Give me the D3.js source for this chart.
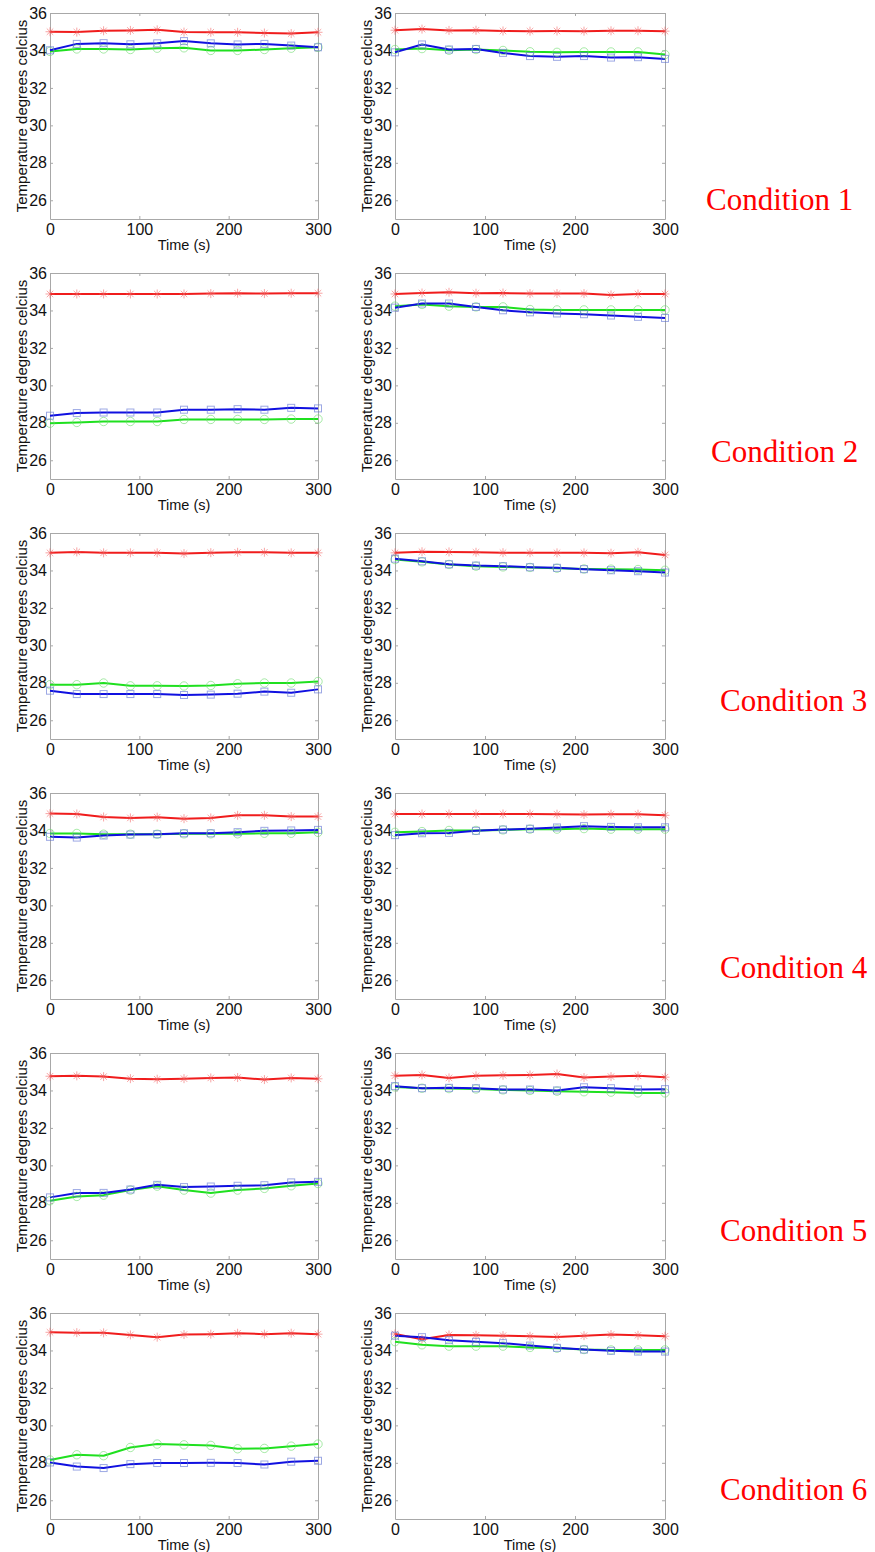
<!DOCTYPE html>
<html>
<head>
<meta charset="utf-8">
<script src="https://cdn.jsdelivr.net/npm/d3@7"></script>
<style>
  body { margin: 0; background: #fff; }
  svg text { font-family: "Liberation Sans", Arial, sans-serif; fill: #111; }
</style>
</head>
<body>
<div id="chart"></div>
<script>
// time points (s)
const times = [0, 30, 60, 90, 120, 150, 180, 210, 240, 270, 300];
const yTicks = [26, 28, 30, 32, 34, 36];
const xTicks = [0, 100, 200, 300];
const conditions = ["Condition 1", "Condition 2", "Condition 3", "Condition 4", "Condition 5", "Condition 6"];

// one row per panel, order: row1 left, row1 right, row2 left, ...
const redSeries = [
  [35.0, 34.98, 35.05, 35.07, 35.1, 34.98, 34.97, 34.97, 34.93, 34.9, 34.97],
  [35.08, 35.14, 35.07, 35.08, 35.04, 35.03, 35.04, 35.03, 35.05, 35.05, 35.03],
  [34.88, 34.88, 34.88, 34.88, 34.88, 34.88, 34.9, 34.92, 34.9, 34.92, 34.92],
  [34.88, 34.93, 34.97, 34.92, 34.93, 34.9, 34.9, 34.9, 34.83, 34.88, 34.88],
  [34.94, 34.99, 34.94, 34.94, 34.94, 34.9, 34.95, 34.97, 34.97, 34.94, 34.94],
  [34.94, 35.0, 34.99, 34.97, 34.95, 34.95, 34.94, 34.94, 34.92, 34.97, 34.83],
  [34.9, 34.88, 34.72, 34.67, 34.71, 34.63, 34.67, 34.81, 34.81, 34.74, 34.74],
  [34.88, 34.88, 34.88, 34.88, 34.88, 34.88, 34.87, 34.85, 34.87, 34.87, 34.81],
  [34.76, 34.78, 34.74, 34.63, 34.6, 34.63, 34.67, 34.69, 34.58, 34.67, 34.62],
  [34.79, 34.83, 34.67, 34.78, 34.81, 34.83, 34.88, 34.69, 34.74, 34.78, 34.71],
  [34.97, 34.95, 34.94, 34.83, 34.71, 34.85, 34.87, 34.92, 34.87, 34.92, 34.87],
  [34.88, 34.6, 34.83, 34.81, 34.79, 34.76, 34.72, 34.79, 34.85, 34.81, 34.76]
];
const greenSeries = [
  [33.95, 34.08, 34.08, 34.05, 34.12, 34.14, 34.0, 34.0, 34.05, 34.12, 34.17],
  [34.05, 34.1, 34.01, 34.05, 34.0, 33.93, 33.9, 33.92, 33.92, 33.92, 33.78],
  [27.98, 28.02, 28.07, 28.07, 28.07, 28.18, 28.18, 28.18, 28.18, 28.2, 28.2],
  [34.23, 34.32, 34.23, 34.19, 34.19, 34.05, 34.03, 34.03, 34.03, 34.03, 34.03],
  [27.9, 27.9, 27.99, 27.84, 27.84, 27.83, 27.86, 27.95, 27.99, 27.99, 28.07],
  [34.58, 34.46, 34.32, 34.23, 34.19, 34.16, 34.12, 34.08, 34.07, 34.05, 34.01],
  [33.84, 33.84, 33.8, 33.8, 33.8, 33.82, 33.82, 33.82, 33.85, 33.85, 33.9],
  [33.9, 33.94, 34.0, 34.0, 34.03, 34.07, 34.07, 34.1, 34.07, 34.07, 34.07],
  [28.11, 28.34, 28.41, 28.68, 28.89, 28.68, 28.52, 28.68, 28.77, 28.91, 29.03],
  [34.19, 34.12, 34.1, 34.08, 34.03, 34.0, 33.96, 33.93, 33.91, 33.87, 33.87],
  [28.15, 28.43, 28.38, 28.82, 29.0, 28.96, 28.93, 28.75, 28.77, 28.89, 29.0],
  [34.47, 34.3, 34.23, 34.23, 34.23, 34.16, 34.12, 34.05, 34.03, 34.03, 34.03]
];
const blueSeries = [
  [34.01, 34.35, 34.39, 34.33, 34.38, 34.5, 34.38, 34.32, 34.35, 34.26, 34.17],
  [33.9, 34.32, 34.05, 34.08, 33.87, 33.7, 33.66, 33.7, 33.62, 33.64, 33.55],
  [28.38, 28.52, 28.55, 28.55, 28.55, 28.7, 28.7, 28.73, 28.7, 28.8, 28.77],
  [34.15, 34.37, 34.37, 34.19, 34.01, 33.9, 33.84, 33.8, 33.73, 33.66, 33.6],
  [27.58, 27.4, 27.4, 27.4, 27.4, 27.35, 27.37, 27.42, 27.53, 27.47, 27.65],
  [34.63, 34.49, 34.33, 34.26, 34.23, 34.17, 34.14, 34.07, 34.01, 33.96, 33.89],
  [33.66, 33.62, 33.73, 33.78, 33.8, 33.85, 33.85, 33.91, 33.98, 34.0, 34.03],
  [33.75, 33.85, 33.87, 33.98, 34.05, 34.09, 34.16, 34.23, 34.19, 34.17, 34.17],
  [28.29, 28.52, 28.53, 28.71, 28.96, 28.84, 28.87, 28.91, 28.94, 29.09, 29.12],
  [34.23, 34.12, 34.14, 34.12, 34.05, 34.05, 34.0, 34.17, 34.12, 34.05, 34.07],
  [28.02, 27.8, 27.72, 27.93, 27.99, 27.99, 28.0, 27.99, 27.91, 28.06, 28.11],
  [34.79, 34.71, 34.55, 34.46, 34.39, 34.26, 34.14, 34.05, 33.98, 33.94, 33.94]
];

const W = 875, H = 1552;
const svg = d3.select("#chart").append("svg")
  .attr("width", W)
  .attr("height", H);

// panel geometry
const colLeft = [50, 395];
const colWidth = [268, 270];
const rowTop = 13, rowStep = 260, plotH = 206;

const styles = [
  { data: redSeries, line: "#f01c1c", mark: "rgba(240,90,90,0.55)", shape: "star" },
  { data: greenSeries, line: "#1fe01f", mark: "rgba(110,220,110,0.6)", shape: "circle" },
  { data: blueSeries, line: "#1010e0", mark: "rgba(90,110,210,0.6)", shape: "square" }
];

function drawMarker(g, shape, cx, cy, color) {
  if (shape === "circle") {
    g.append("circle").attr("cx", cx).attr("cy", cy).attr("r", 4.2)
      .attr("fill", "none").attr("stroke", color).attr("stroke-width", 1);
  } else if (shape === "square") {
    g.append("rect").attr("x", cx - 3.5).attr("y", cy - 3.5).attr("width", 7).attr("height", 7)
      .attr("fill", "none").attr("stroke", color).attr("stroke-width", 1);
  } else {
    const r = 4.5;
    const p = d3.path();
    p.moveTo(cx - r, cy); p.lineTo(cx + r, cy);
    p.moveTo(cx, cy - r); p.lineTo(cx, cy + r);
    const d = r * 0.72;
    p.moveTo(cx - d, cy - d); p.lineTo(cx + d, cy + d);
    p.moveTo(cx - d, cy + d); p.lineTo(cx + d, cy - d);
    g.append("path").attr("d", p.toString()).attr("stroke", color).attr("stroke-width", 1).attr("fill", "none");
  }
}

for (let i = 0; i < 12; i++) {
  const row = Math.floor(i / 2), col = i % 2;
  const left = colLeft[col], width = colWidth[col];
  const top = rowTop + row * rowStep;

  const x = d3.scaleLinear().domain([0, 300]).range([0, width]);
  const y = d3.scaleLinear().domain([25, 36]).range([plotH, 0]);

  const g = svg.append("g").attr("transform", `translate(${left},${top})`);

  // box + inward ticks on all sides
  const axisStyle = sel => {
    sel.selectAll(".domain").attr("stroke", "#a8a8a8");
    sel.selectAll(".tick line").attr("stroke", "#a8a8a8");
    sel.selectAll("text").style("font-size", "16px").attr("fill", "#111");
  };
  g.append("g").attr("transform", `translate(0,${plotH})`)
    .call(d3.axisBottom(x).tickValues(xTicks).tickSize(-3).tickPadding(5).tickSizeOuter(0))
    .call(axisStyle);
  g.append("g")
    .call(d3.axisTop(x).tickValues(xTicks).tickSize(-3).tickFormat("").tickSizeOuter(0))
    .call(axisStyle);
  g.append("g")
    .call(d3.axisLeft(y).tickValues(yTicks).tickSize(-3).tickPadding(3).tickSizeOuter(0))
    .call(axisStyle);
  g.append("g").attr("transform", `translate(${width},0)`)
    .call(d3.axisRight(y).tickValues(yTicks).tickSize(-3).tickFormat("").tickSizeOuter(0))
    .call(axisStyle);

  g.selectAll("text").attr("font-family", "Liberation Sans, Arial, sans-serif");

  // axis titles
  g.append("text")
    .attr("x", width / 2).attr("y", plotH + 31)
    .attr("text-anchor", "middle")
    .style("font-size", "14.5px")
    .text("Time (s)");
  g.append("text")
    .attr("transform", `translate(-23,${plotH / 2}) rotate(-90)`)
    .attr("text-anchor", "middle")
    .style("font-size", "15px")
    .text("Temperature degrees celcius");

  const line = d3.line().x((d, k) => x(times[k])).y(d => y(d));

  styles.forEach(s => {
    g.append("path")
      .datum(s.data[i])
      .attr("fill", "none")
      .attr("stroke", s.line)
      .attr("stroke-width", 2)
      .attr("stroke-linejoin", "round")
      .attr("d", line);
  });
  styles.forEach(s => {
    s.data[i].forEach((v, k) => drawMarker(g, s.shape, x(times[k]), y(v), s.mark));
  });
}

// condition labels on the right
const condX = [706, 711, 720, 720, 720, 720];
const condY = [210, 462, 711, 978, 1241, 1500];
svg.selectAll(".cond")
  .data(conditions)
  .enter().append("text")
  .attr("class", "cond")
  .attr("x", (d, k) => condX[k])
  .attr("y", (d, k) => condY[k])
  .style("font-family", "'Liberation Serif', 'Times New Roman', serif")
  .style("font-size", "31px")
  .style("fill", "#ff0000")
  .text(d => d);
</script>
</body>
</html>
